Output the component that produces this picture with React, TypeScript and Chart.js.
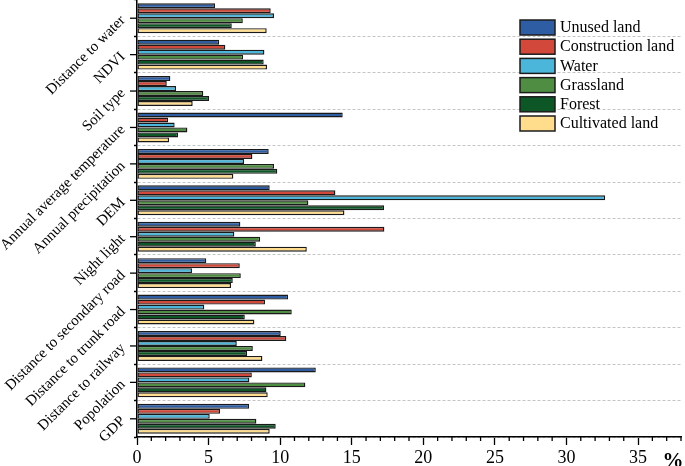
import React, { useEffect, useRef } from "react";
import { Chart, registerables } from "chart.js";

Chart.register(...registerables);

const categories = [
  "Distance to water",
  "NDVI",
  "Soil type",
  "Annual average temperature",
  "Annual precipitation",
  "DEM",
  "Night light",
  "Distance to secondary road",
  "Distance to trunk road",
  "Distance to railway",
  "Popolation",
  "GDP",
];

const seriesLabels = ["Unused land", "Construction land", "Water", "Grassland", "Forest", "Cultivated land"];
const seriesColors = ["#2E5DA3", "#D2483A", "#4BB6D9", "#4E8D42", "#0D5626", "#FFDD8C"];

const unusedLand = [5.45, 5.73, 2.33, 14.37, 9.2, 9.27, 7.22, 4.84, 10.55, 10.04, 12.49, 7.83];
const constructionLand = [9.34, 6.17, 2.08, 2.17, 8.06, 13.86, 17.28, 7.18, 8.94, 10.43, 8.02, 5.8];
const water = [9.57, 8.9, 2.73, 2.63, 7.48, 32.7, 6.8, 3.84, 4.7, 6.97, 7.85, 5.08];
const grassland = [7.39, 7.41, 4.63, 3.52, 9.57, 11.97, 8.6, 7.25, 10.81, 8.09, 11.76, 8.34];
const forest = [6.62, 8.85, 5.03, 2.87, 9.8, 17.26, 8.3, 6.69, 7.53, 7.69, 9.04, 9.69];
const cultivatedLand = [9.06, 9.08, 3.89, 2.24, 6.73, 14.49, 11.86, 6.57, 8.2, 8.76, 9.13, 9.27];

const seriesValues = [unusedLand, constructionLand, water, grassland, forest, cultivatedLand];

const xMin = 0;
const xMax = 38;
const xStep = 5;
const unitLabel = "%";

const FONT = "'Liberation Serif', 'Times New Roman', serif";

export default function App() {
  const ref = useRef<HTMLCanvasElement>(null);

  useEffect(() => {
    document.body.style.margin = "0";
    const canvas = ref.current;
    if (!canvas) return;

    const extras = {
      id: "extras",
      afterDraw(chart: any) {
        const ctx = chart.ctx as CanvasRenderingContext2D;
        const xs = chart.scales.x;
        const ys = chart.scales.y;
        const area = chart.chartArea;
        ctx.save();
        ctx.strokeStyle = "#000";
        ctx.lineWidth = 1.3;
        // minor x ticks
        for (let v = Math.ceil(xs.min); v <= xs.max; v++) {
          if (v % xStep === 0) continue;
          const px = xs.getPixelForValue(v);
          ctx.beginPath();
          ctx.moveTo(px, area.bottom);
          ctx.lineTo(px, area.bottom + 4);
          ctx.stroke();
        }
        // y ticks at category centres
        categories.forEach((_, i) => {
          const py = ys.getPixelForValue(i);
          ctx.beginPath();
          ctx.moveTo(area.left - 7, py);
          ctx.lineTo(area.left, py);
          ctx.stroke();
        });
        // unit label
        ctx.fillStyle = "#000";
        ctx.font = `bold 21px ${FONT}`;
        ctx.textAlign = "center";
        ctx.textBaseline = "alphabetic";
        ctx.fillText(unitLabel, area.right - 8, area.bottom + 30);
        // legend
        const lx = area.right - 161;
        const ly = area.top + 20;
        const pitch = 19.2;
        ctx.font = `16px ${FONT}`;
        ctx.textAlign = "left";
        ctx.textBaseline = "middle";
        chart.data.datasets.forEach((ds: any, i: number) => {
          const top = ly + i * pitch;
          ctx.fillStyle = ds.backgroundColor;
          ctx.fillRect(lx, top, 35, 15);
          ctx.lineWidth = 1.5;
          ctx.strokeStyle = "#1c1c1c";
          ctx.strokeRect(lx, top, 35, 15);
          ctx.fillStyle = "#000";
          ctx.fillText(ds.label, lx + 40, top + 8);
        });
        ctx.restore();
      },
    };

    const chart = new Chart(canvas, {
      type: "bar",
      data: {
        labels: categories,
        datasets: seriesLabels.map((label, i) => ({
          label,
          data: seriesValues[i],
          backgroundColor: seriesColors[i],
          borderColor: "#1a1a1a",
          borderWidth: 1.4,
          borderSkipped: false,
          barPercentage: 1,
          categoryPercentage: 0.82,
        })),
      },
      options: {
        indexAxis: "y",
        animation: false,
        responsive: false,
        maintainAspectRatio: false,
        layout: { padding: { left: 0, right: 4, top: 0, bottom: 0 } },
        plugins: {
          legend: { display: false },
          tooltip: { enabled: false },
        },
        scales: {
          x: {
            type: "linear",
            min: xMin,
            max: xMax,
            ticks: {
              stepSize: xStep,
              includeBounds: false,
              color: "#000",
              font: { family: FONT, size: 18 },
              padding: 2,
              maxRotation: 0,
            },
            grid: {
              drawOnChartArea: false,
              tickLength: 8,
              tickColor: "#000",
              tickWidth: 1.3,
            },
            border: { color: "#000", width: 1.5 },
            afterFit(scale: any) {
              scale.height = 29;
              scale.paddingLeft = 0;
              scale.paddingRight = 0;
            },
          },
          y: {
            type: "category",
            ticks: {
              autoSkip: false,
              minRotation: 45,
              maxRotation: 45,
              color: "#000",
              font: { family: FONT, size: 15 },
              padding: 11,
            },
            grid: {
              offset: true,
              color: "#c4c4c4",
              lineWidth: 1,
              tickLength: 3,
              tickColor: "#000",
              tickWidth: 1.3,
              tickBorderDash: [],
            },
            border: { color: "#000", width: 1.5, dash: [3, 2] },
            afterFit(scale: any) {
              scale.width = 137;
              scale.paddingTop = 0;
              scale.paddingBottom = 0;
            },
          },
        },
      },
      plugins: [extras],
    } as any);

    return () => chart.destroy();
  }, []);

  return (
    <div style={{ width: 685, height: 466 }}>
      <canvas ref={ref} width={685} height={466} style={{ display: "block" }} />
    </div>
  );
}
